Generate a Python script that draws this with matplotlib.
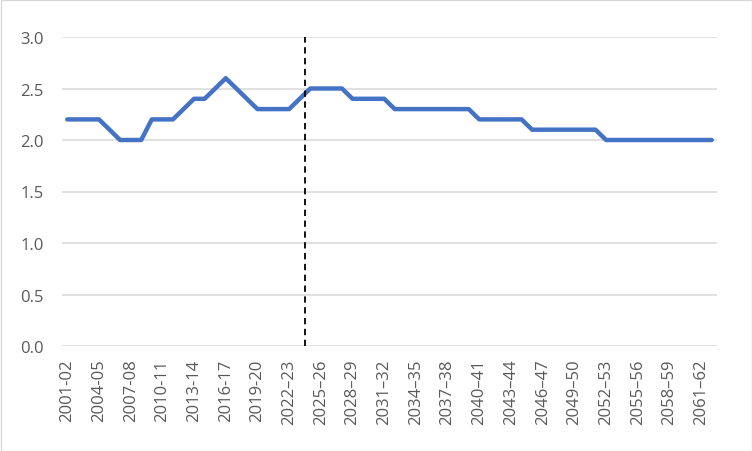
import matplotlib
matplotlib.use("Agg")
import matplotlib.pyplot as plt
from matplotlib.patches import Rectangle

# financial years 2001-02 .. 2062-63 (projections use en dash)
years = [f"{y}-{(y + 1) % 100:02d}" if y < 2022 else f"{y}\u2013{(y + 1) % 100:02d}"
         for y in range(2001, 2063)]

values = [2.2, 2.2, 2.2, 2.2, 2.1, 2.0, 2.0, 2.0, 2.2, 2.2,
          2.2, 2.3, 2.4, 2.4, 2.5, 2.6, 2.5, 2.4, 2.3, 2.3,
          2.3, 2.3, 2.4, 2.5, 2.5, 2.5, 2.5, 2.4, 2.4, 2.4,
          2.4, 2.3, 2.3, 2.3, 2.3, 2.3, 2.3, 2.3, 2.3, 2.2,
          2.2, 2.2, 2.2, 2.2, 2.1, 2.1, 2.1, 2.1, 2.1, 2.1,
          2.1, 2.0, 2.0, 2.0, 2.0, 2.0, 2.0, 2.0, 2.0, 2.0,
          2.0, 2.0]

y_ticks = [0.0, 0.5, 1.0, 1.5, 2.0, 2.5, 3.0]
split_at = 22.5  # between 2023-24 and 2024-25

plt.rcParams["font.family"] = ["Open Sans", "DejaVu Sans"]

fig = plt.figure(figsize=(7.52, 4.52), dpi=100)
ax = fig.add_axes([62 / 752, 105 / 452, 655 / 752, 309 / 452])

x = list(range(len(years)))
ax.plot(x, values, color="#4472C4", linewidth=3.2, solid_capstyle="round",
        solid_joinstyle="round", zorder=3)
ax.axvline(split_at, ymin=0, ymax=1, color="black", linewidth=1.3,
           linestyle=(0, (3.5, 2.5)), zorder=4)

ax.set_xlim(-0.5, len(years) - 0.5)
ax.set_ylim(0, 3.0)
ax.set_yticks(y_ticks)
ax.set_yticklabels([f"{v:.1f}" for v in y_ticks])
ax.set_xticks(x[::3])
ax.set_xticklabels(years[::3], rotation=90)

ax.grid(axis="y", color="#d9d9d9", linewidth=1.1)
ax.set_axisbelow(True)
for s in ax.spines.values():
    s.set_visible(False)
ax.tick_params(axis="both", length=0, colors="#595959", labelsize=12)
ax.tick_params(axis="y", pad=13)
ax.tick_params(axis="x", pad=9)

fig.patches.append(Rectangle((0.5 / 752, 0.5 / 452), 751 / 752, 451 / 452,
                             transform=fig.transFigure, fill=False,
                             edgecolor="#d9d9d9", linewidth=1))

fig.savefig("out.png", dpi=100)
